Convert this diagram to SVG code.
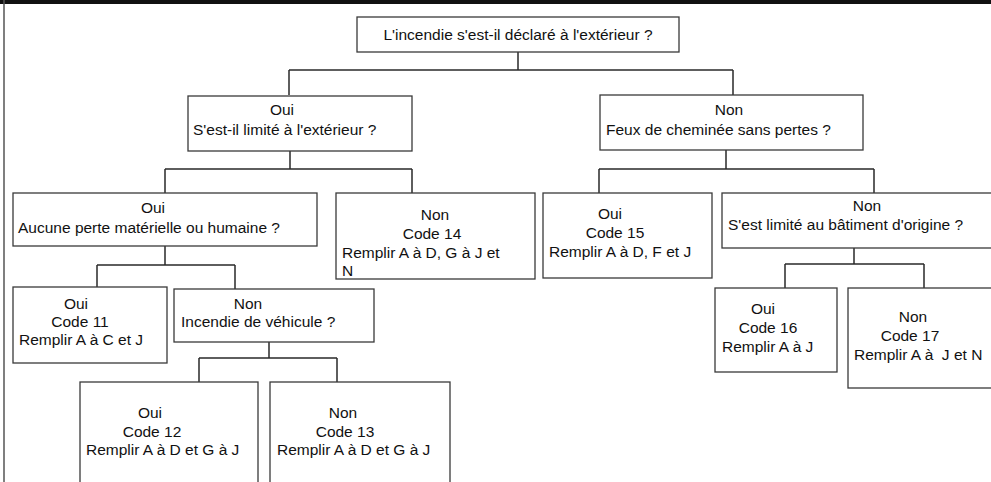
<svg xmlns="http://www.w3.org/2000/svg" width="991" height="482" viewBox="0 0 991 482">
<style>
.box{fill:#fff;stroke:#3a3a3a;stroke-width:1.3}
.t{font-family:"Liberation Sans",Arial,sans-serif;font-size:15.5px;fill:#111}
.c{text-anchor:middle}
.conn{fill:none;stroke:#2a2a2a;stroke-width:1.5}
</style>
<rect x="0" y="0" width="991" height="482" fill="#fff"/>
<rect x="0" y="0" width="991" height="4" fill="#111"/>
<line x1="4" y1="0" x2="4" y2="482" stroke="#555" stroke-width="1.5"/>

<g id="connectors" class="conn">
<path d="M518,52V70M289,70H733M289,70V95M733,70V95"/>
<path d="M290,151V169M165,169H412M165,169V193M412,169V193"/>
<path d="M726,150V169M599,169H874M599,169V193M874,169V193"/>
<path d="M165,246V265M97,265H235M97,265V287M235,265V289"/>
<path d="M269,342V358M199,358H337M199,358V382M337,358V382"/>
<path d="M854,248V264M785,264H924M785,264V288M924,264V288"/>
</g>

<g id="root">
<rect class="box" x="357" y="17" width="322" height="35"/>
<text class="t c" x="518" y="40">L'incendie s'est-il déclaré à l'extérieur ?</text>
</g>

<g id="n-oui-limite">
<rect class="box" x="188" y="96" width="224" height="55"/>
<text class="t c" x="282" y="115">Oui</text>
<text class="t" x="193" y="135">S'est-il limité à l'extérieur ?</text>
</g>

<g id="n-non-cheminee">
<rect class="box" x="600" y="95" width="263" height="55"/>
<text class="t c" x="729" y="115">Non</text>
<text class="t" x="606" y="135">Feux de cheminée sans pertes ?</text>
</g>

<g id="n-oui-aucune">
<rect class="box" x="13" y="193" width="304" height="53"/>
<text class="t c" x="153" y="213">Oui</text>
<text class="t" x="18" y="233">Aucune perte matérielle ou humaine ?</text>
</g>

<g id="n-code14">
<rect class="box" x="336" y="193" width="199" height="86"/>
<text class="t c" x="435" y="220">Non</text>
<text class="t c" x="432" y="239">Code 14</text>
<text class="t" x="342" y="258">Remplir A à D, G à J et</text>
<text class="t" x="342" y="276">N</text>
</g>

<g id="n-code15">
<rect class="box" x="543" y="193" width="169" height="85"/>
<text class="t c" x="610" y="219">Oui</text>
<text class="t c" x="615" y="238">Code 15</text>
<text class="t" x="549" y="257">Remplir A à D, F et J</text>
</g>

<g id="n-non-batiment">
<rect class="box" x="722" y="193" width="275" height="55"/>
<text class="t c" x="867" y="211">Non</text>
<text class="t" x="728" y="230">S'est limité au bâtiment d'origine ?</text>
</g>

<g id="n-code11">
<rect class="box" x="13" y="287" width="154" height="76"/>
<text class="t c" x="76" y="309">Oui</text>
<text class="t c" x="80" y="327">Code 11</text>
<text class="t" x="19" y="345">Remplir A à C et J</text>
</g>

<g id="n-non-vehicule">
<rect class="box" x="174" y="289" width="200" height="53"/>
<text class="t c" x="248" y="309">Non</text>
<text class="t" x="181" y="327">Incendie de véhicule ?</text>
</g>

<g id="n-code12">
<rect class="box" x="80" y="382" width="178" height="110"/>
<text class="t c" x="150" y="418">Oui</text>
<text class="t c" x="152" y="437">Code 12</text>
<text class="t" x="86" y="455">Remplir A à D et G à J</text>
</g>

<g id="n-code13">
<rect class="box" x="270" y="382" width="180" height="110"/>
<text class="t c" x="343" y="418">Non</text>
<text class="t c" x="345" y="437">Code 13</text>
<text class="t" x="277" y="455">Remplir A à D et G à J</text>
</g>

<g id="n-code16">
<rect class="box" x="715" y="288" width="122" height="84"/>
<text class="t c" x="763" y="314">Oui</text>
<text class="t c" x="768" y="333">Code 16</text>
<text class="t" x="722" y="352">Remplir A à J</text>
</g>

<g id="n-code17">
<rect class="box" x="848" y="288" width="149" height="100"/>
<text class="t c" x="913" y="322">Non</text>
<text class="t c" x="910" y="341">Code 17</text>
<text class="t" x="854" y="360" xml:space="preserve">Remplir A à  J et N</text>
</g>
</svg>
